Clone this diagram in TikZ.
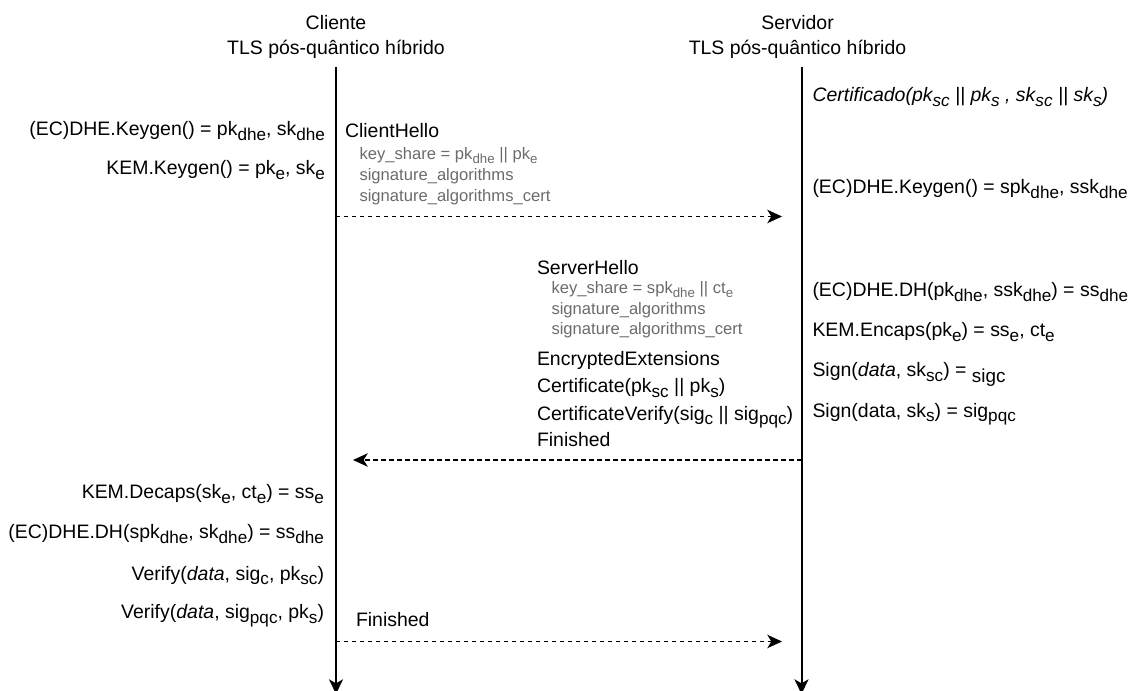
\documentclass[tikz,border=0pt]{standalone}
\usepackage{fontspec}
\usepackage{graphicx}
\setmainfont{Liberation Sans}
\usetikzlibrary{arrows.meta}
% lowered, smaller text for indices
\newcommand{\lo}[1]{\raisebox{-0.25em}{\scalebox{0.88}{#1}}}
\newcommand{\lon}[1]{\raisebox{-0.25em}{\scalebox{0.8}{#1}}}
\newcommand{\lob}[1]{\raisebox{-0.28em}{\scalebox{0.97}{#1}}}

\begin{document}
\begin{tikzpicture}[x=0.75pt,y=-0.75pt,
  every node/.style={inner sep=0pt,outer sep=0pt},
  main/.style={font=\fontsize{14.6pt}{17pt}\selectfont,text=black},
  note/.style={font=\fontsize{12.45pt}{15pt}\selectfont,text=black!58},
  lifeline/.style={line width=1.5pt,-{Stealth[length=11pt,width=10.5pt,inset=3pt]}},
  msg/.style={line width=1.4pt,dash pattern=on 3.3pt off 2.7pt,
    -{Stealth[length=11pt,width=10pt,inset=3pt]}}]
\useasboundingbox (0,0) rectangle (1131,691);

% participants
\node[main,anchor=base] (cname) at (336,30) {Cliente};
\node[main,anchor=base] (ctls) at (336,55) {TLS pós-quântico híbrido};
\node[main,anchor=base] (sname) at (797.5,30) {Servidor};
\node[main,anchor=base] (stls) at (797.5,55) {TLS pós-quântico híbrido};

\coordinate (ctop) at (336,67);
\coordinate (cbot) at (336,694);
\coordinate (stop) at (801.5,67);
\coordinate (sbot) at (801.5,694);
\draw[lifeline] (ctop) -- (cbot);
\draw[lifeline] (stop) -- (sbot);

% client key generation
\node[main,anchor=base east] (ckg1) at (325,136) {(EC)DHE.Keygen() = pk\lo{dhe}, sk\lo{dhe}};
\node[main,anchor=base east] (ckg2) at (325,175) {KEM.Keygen() = pk\lo{e}, sk\lo{e}};

% ClientHello
\node[main,anchor=base west] (ch) at (345,138) {ClientHello};
\node[note,anchor=base west] (ch1) at (359.5,159.5) {key\_share = pk\lon{dhe} || pk\lon{e}};
\node[note,anchor=base west] (ch2) at (359.5,181) {signature\_algorithms};
\node[note,anchor=base west] (ch3) at (359.5,202) {signature\_algorithms\_cert};
\coordinate (m1a) at (336,216.5);
\coordinate (m1b) at (782,216.5);
\draw[msg] (m1a) -- (m1b);

% server side
\node[main,anchor=base west] (cert) at (812.5,101.5) {\itshape Certificado(pk\lo{sc} || pk\lo{s} , sk\lo{sc} || sk\lo{s})};
\node[main,anchor=base west] (skg) at (812.5,194) {(EC)DHE.Keygen() = spk\lo{dhe}, ssk\lo{dhe}};
\node[main,anchor=base west] (sdh) at (812.5,296.5) {(EC)DHE.DH(pk\lo{dhe}, ssk\lo{dhe}) = ss\lo{dhe}};
\node[main,anchor=base west] (senc) at (812.5,336.5) {KEM.Encaps(pk\lo{e}) = ss\lo{e}, ct\lo{e}};
\node[main,anchor=base west] (ssg1) at (812.5,377) {Sign(\textit{data}, sk\lo{sc}) = \lob{sigc}};
\node[main,anchor=base west] (ssg2) at (812.5,417) {Sign(data, sk\lo{s}) = sig\lo{pqc}};

% ServerHello flight
\node[main,anchor=base west] (sh) at (537,275) {ServerHello};
\node[note,anchor=base west] (sh1) at (551.5,293.5) {key\_share = spk\lon{dhe} || ct\lon{e}};
\node[note,anchor=base west] (sh2) at (551.5,314.5) {signature\_algorithms};
\node[note,anchor=base west] (sh3) at (551.5,335) {signature\_algorithms\_cert};
\node[main,anchor=base west] (ee) at (537,365) {EncryptedExtensions};
\node[main,anchor=base west] (sc) at (537,392.5) {Certificate(pk\lo{sc} || pk\lo{s})};
\node[main,anchor=base west] (scv) at (537,420) {CertificateVerify(sig\lo{c} || sig\lo{pqc})};
\node[main,anchor=base west] (sfin) at (537,446.5) {Finished};
\coordinate (m2a) at (801.5,460);
\coordinate (m2b) at (353,460);
\draw[msg] (m2a) -- (m2b);

% client processing
\node[main,anchor=base east] (cdec) at (324,498.5) {KEM.Decaps(sk\lo{e}, ct\lo{e}) = ss\lo{e}};
\node[main,anchor=base east] (cdh) at (324,538.5) {(EC)DHE.DH(spk\lo{dhe}, sk\lo{dhe}) = ss\lo{dhe}};
\node[main,anchor=base east] (cv1) at (324,580) {Verify(\textit{data}, sig\lo{c}, pk\lo{sc})};
\node[main,anchor=base east] (cv2) at (324,618.5) {Verify(\textit{data}, sig\lo{pqc}, pk\lo{s})};

% client Finished
\node[main,anchor=base west] (cfin) at (356,626) {Finished};
\coordinate (m3a) at (336,641.5);
\coordinate (m3b) at (782,641.5);
\draw[msg] (m3a) -- (m3b);
\end{tikzpicture}
\end{document}
